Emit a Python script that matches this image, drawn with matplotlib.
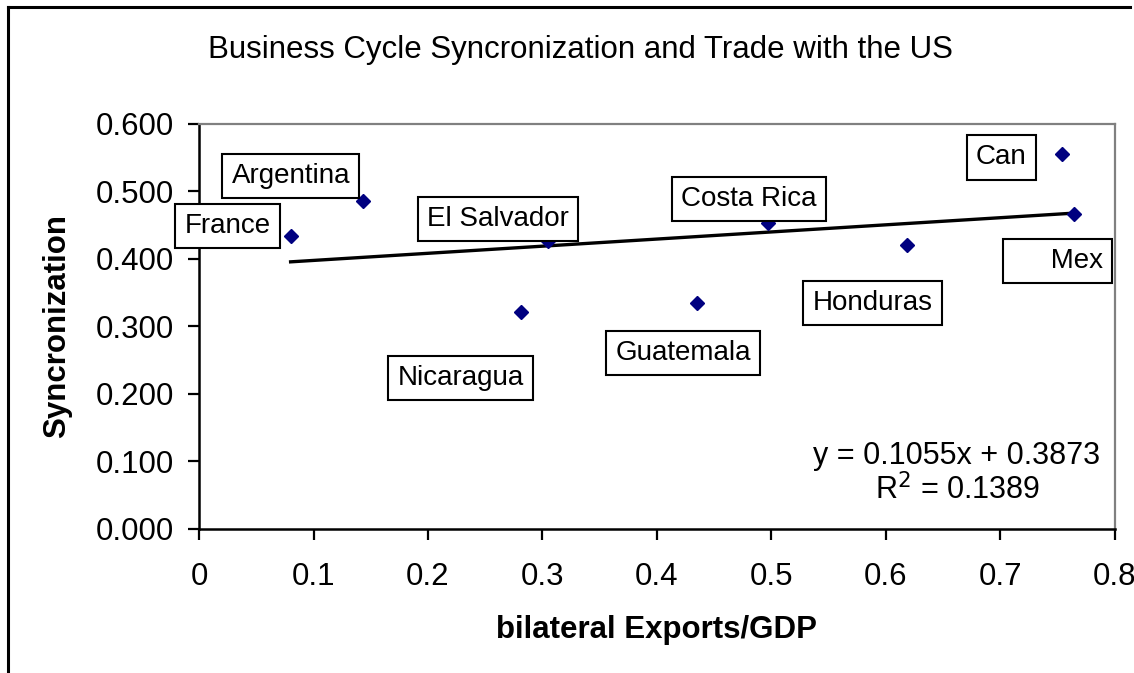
import matplotlib.pyplot as plt
from matplotlib.lines import Line2D

plt.rcParams["font.family"] = ["Liberation Sans", "DejaVu Sans"]

# data
countries = ["France", "Argentina", "El Salvador", "Nicaragua", "Guatemala",
             "Costa Rica", "Honduras", "Can", "Mex"]
exports_gdp = [0.080, 0.143, 0.305, 0.281, 0.435, 0.497, 0.618, 0.754, 0.764]
synchronization = [0.434, 0.486, 0.427, 0.321, 0.335, 0.453, 0.421, 0.555, 0.467]
trend_slope = 0.1055
trend_intercept = 0.3873
r_squared = 0.1389
x_ticks = [0, 0.1, 0.2, 0.3, 0.4, 0.5, 0.6, 0.7, 0.8]
y_ticks = [0.0, 0.1, 0.2, 0.3, 0.4, 0.5, 0.6]

# label box offsets from each marker, in pixels
LABEL_OFFSETS = {
    "France": (-63, 10),
    "Argentina": (-72, 25),
    "El Salvador": (-50, 22),
    "Nicaragua": (-60, -66),
    "Guatemala": (-14, -50),
    "Costa Rica": (-19, 24),
    "Honduras": (-34, -58),
    "Can": (-61, -3),
    "Mex": (-16, -47),
}
LABEL_TEXT = {"Mex": "     Mex"}

fig = plt.figure(figsize=(11.34, 6.73), dpi=100)
ax = fig.add_axes([0.1755, 0.214, 0.8077, 0.6018])

ax.plot(exports_gdp, synchronization, linestyle="none", marker="D",
        markersize=7.5, color="#000080", zorder=3)

x_lo, x_hi = min(exports_gdp), max(exports_gdp)
ax.plot([x_lo, x_hi],
        [trend_slope * x_lo + trend_intercept, trend_slope * x_hi + trend_intercept],
        color="black", linewidth=2.4, zorder=2)

for name, x, y in zip(countries, exports_gdp, synchronization):
    dx, dy = LABEL_OFFSETS[name]
    ax.annotate(LABEL_TEXT.get(name, name), (x, y), xytext=(dx, dy),
                textcoords="offset pixels", ha="center", va="center",
                fontsize=20,
                bbox=dict(boxstyle="square,pad=0.33", facecolor="white",
                          edgecolor="black", linewidth=1.5),
                zorder=4, annotation_clip=False)

ax.text(0.9836, 0.180, f"y = {trend_slope:.4f}x + {trend_intercept:.4f}",
        transform=ax.transAxes, ha="right", va="center", fontsize=22)
ax.text(0.8286, 0.095, f"R$^2$ = {r_squared:.4f}", transform=ax.transAxes,
        ha="center", va="center", fontsize=22)

ax.set_xlim(0, 0.8)
ax.set_ylim(0, 0.6)
ax.set_xticks(x_ticks, [f"{v:g}" for v in x_ticks])
ax.set_yticks(y_ticks, [f"{v:.3f}" for v in y_ticks])
ax.tick_params(axis="both", direction="out", length=8, width=1.6,
               labelsize=22.5, color="black")
ax.tick_params(axis="x", pad=16)
ax.tick_params(axis="y", pad=10)
for side in ("left", "bottom"):
    ax.spines[side].set_color("black")
    ax.spines[side].set_linewidth(1.8)
for side in ("top", "right"):
    ax.spines[side].set_color("#808080")
    ax.spines[side].set_linewidth(1.6)

ax.set_xlabel("bilateral Exports/GDP", fontsize=22.5, fontweight="bold", labelpad=16)
ax.set_ylabel("Syncronization", fontsize=22.5, fontweight="bold", labelpad=17)

fig.text(0.5115, 0.926, "Business Cycle Syncronization and Trade with the US",
         ha="center", va="center", fontsize=22.5)

# chart frame, cut off at the right and bottom like the reference
fig.add_artist(Line2D([0.007, 0.007], [0.0, 0.9896], color="black", linewidth=2.2))
fig.add_artist(Line2D([0.007, 0.9965], [0.9896, 0.9896], color="black", linewidth=2.2))

fig.savefig("out.png", dpi=100)
